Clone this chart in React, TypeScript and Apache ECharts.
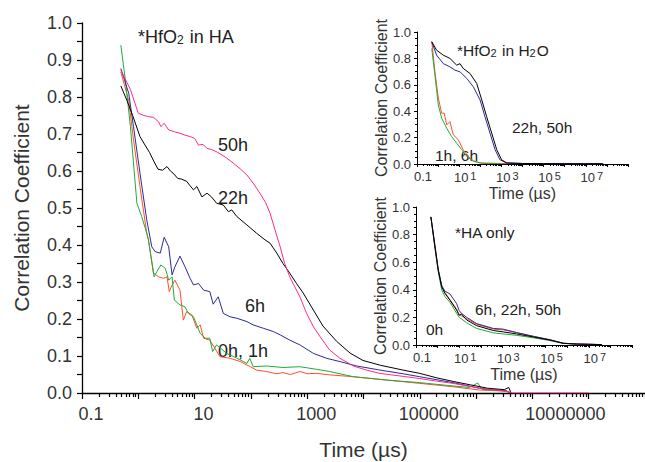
import React, { useEffect, useRef } from "react";
import * as echarts from "echarts";

// ---------- DATA (time as log10 of µs, values = correlation coefficient) ----------
// Main plot: HfO2 in HA
const main0hLogT = [-0.31, -0.17, -0.085, 0.03, 0.15, 0.18, 0.27, 0.36, 0.45, 0.51, 0.55, 0.6, 0.65, 0.74, 0.8, 0.86, 0.95, 1.04, 1.1, 1.16, 1.27, 1.36, 1.45, 1.63, 1.81, 1.99, 2.1, 2.28, 2.45, 2.57, 2.7, 2.87, 3.0, 3.17, 3.4, 3.82, 4.41, 5.0, 5.59, 6.06, 6.54, 6.6];
const main0hY = [0.868, 0.79, 0.684, 0.558, 0.432, 0.414, 0.324, 0.314, 0.31, 0.314, 0.274, 0.292, 0.305, 0.278, 0.197, 0.22, 0.211, 0.175, 0.184, 0.148, 0.143, 0.121, 0.098, 0.094, 0.085, 0.071, 0.062, 0.058, 0.052, 0.055, 0.05, 0.058, 0.052, 0.053, 0.049, 0.044, 0.035, 0.026, 0.017, 0.008, 0.005, 0];

const main1hLogT = [-0.31, -0.23, -0.14, -0.025, 0.06, 0.15, 0.18, 0.28, 0.33, 0.4, 0.48, 0.54, 0.6, 0.64, 0.74, 0.83, 0.89, 0.98, 1.1, 1.19, 1.27, 1.32, 1.39, 1.57, 1.75, 1.93, 1.98, 2.04, 2.28, 2.57, 2.87, 3.17, 3.4, 3.82, 4.41, 5.0, 5.59, 5.88, 6.03, 6.1, 6.54, 6.6];
const main1hY = [0.94, 0.846, 0.72, 0.513, 0.477, 0.432, 0.414, 0.314, 0.328, 0.346, 0.337, 0.305, 0.314, 0.251, 0.238, 0.233, 0.215, 0.206, 0.161, 0.148, 0.148, 0.112, 0.13, 0.107, 0.094, 0.08, 0.094, 0.071, 0.073, 0.069, 0.071, 0.064, 0.058, 0.044, 0.035, 0.028, 0.019, 0.015, 0.027, 0.01, 0.005, 0];

const main6hLogT = [-0.31, -0.17, -0.085, 0.03, 0.15, 0.24, 0.3, 0.39, 0.46, 0.54, 0.6, 0.65, 0.74, 0.83, 0.92, 0.98, 1.07, 1.16, 1.27, 1.33, 1.42, 1.51, 1.63, 1.75, 1.93, 2.04, 2.22, 2.4, 2.52, 2.69, 2.87, 3.11, 3.34, 3.58, 3.88, 4.29, 4.7, 5.0, 5.59, 6.06, 6.54, 6.6];
const main6hY = [0.877, 0.81, 0.72, 0.594, 0.468, 0.395, 0.382, 0.378, 0.421, 0.395, 0.319, 0.341, 0.37, 0.341, 0.31, 0.292, 0.296, 0.278, 0.274, 0.24, 0.26, 0.215, 0.206, 0.202, 0.193, 0.184, 0.175, 0.166, 0.157, 0.143, 0.13, 0.107, 0.094, 0.085, 0.073, 0.062, 0.052, 0.044, 0.028, 0.013, 0.006, 0];

const main22hLogT = [-0.31, -0.2, -0.1, 0.03, 0.12, 0.2, 0.28, 0.35, 0.43, 0.51, 0.57, 0.62, 0.7, 0.77, 0.86, 0.92, 0.98, 1.04, 1.13, 1.22, 1.3, 1.39, 1.51, 1.6, 1.66, 1.75, 1.93, 2.1, 2.25, 2.34, 2.46, 2.57, 2.69, 2.81, 2.93, 3.11, 3.28, 3.52, 3.76, 3.99, 4.3, 4.7, 5.0, 5.3, 5.6, 5.9, 6.2, 6.5, 6.58, 6.62];
const main22hY = [0.83, 0.79, 0.75, 0.693, 0.67, 0.65, 0.625, 0.605, 0.602, 0.612, 0.6, 0.594, 0.58, 0.578, 0.572, 0.56, 0.549, 0.558, 0.53, 0.54, 0.53, 0.513, 0.508, 0.49, 0.495, 0.477, 0.454, 0.432, 0.414, 0.405, 0.378, 0.35, 0.324, 0.296, 0.27, 0.224, 0.181, 0.14, 0.108, 0.088, 0.075, 0.062, 0.053, 0.041, 0.031, 0.022, 0.013, 0.009, 0.015, 0];

const main50hLogT = [-0.31, -0.14, 0.0, 0.1, 0.18, 0.27, 0.36, 0.4, 0.46, 0.54, 0.64, 0.74, 0.83, 0.92, 1.0, 1.07, 1.15, 1.22, 1.3, 1.39, 1.55, 1.69, 1.81, 1.93, 2.05, 2.16, 2.26, 2.34, 2.43, 2.52, 2.6, 2.69, 2.78, 2.87, 2.99, 3.11, 3.23, 3.4, 3.58, 3.82, 4.05, 4.29, 4.7, 5.0, 5.3, 5.59, 6.06, 6.54, 6.65, 8.0];
const main50hY = [0.873, 0.82, 0.756, 0.75, 0.747, 0.745, 0.733, 0.72, 0.729, 0.711, 0.706, 0.702, 0.697, 0.693, 0.688, 0.67, 0.672, 0.661, 0.658, 0.652, 0.637, 0.621, 0.606, 0.589, 0.565, 0.54, 0.515, 0.486, 0.44, 0.395, 0.35, 0.314, 0.287, 0.26, 0.215, 0.179, 0.152, 0.116, 0.094, 0.073, 0.062, 0.053, 0.045, 0.039, 0.032, 0.026, 0.013, 0.005, 0, 0];

// Top inset: HfO2 in H2O
const h2o1hLogT = [-0.3, -0.15, 0.01, 0.17, 0.29, 0.41, 0.56, 0.72, 0.96, 1.19, 1.43, 1.67, 1.99, 3.0, 3.9];
const h2o1hY = [0.93, 0.7, 0.5, 0.385, 0.385, 0.296, 0.321, 0.221, 0.183, 0.108, 0.057, 0.025, 0.008, 0.004, 0.003];
const h2o6hLogT = [-0.3, -0.15, 0.01, 0.17, 0.41, 0.64, 0.88, 1.12, 1.36, 1.67, 2.1, 3.0];
const h2o6hY = [0.875, 0.673, 0.447, 0.347, 0.271, 0.208, 0.158, 0.108, 0.057, 0.02, 0.005, 0.002];
const h2o22hLogT = [-0.3, -0.07, 0.25, 0.56, 0.88, 1.04, 1.19, 1.51, 1.83, 2.07, 2.3, 2.54, 2.78, 3.01, 3.25, 4, 5, 6, 7, 7.83];
const h2o22hY = [0.925, 0.862, 0.824, 0.8, 0.749, 0.76, 0.724, 0.686, 0.61, 0.485, 0.359, 0.234, 0.108, 0.032, 0.008, 0.004, 0.003, 0.002, 0.002, 0.002];
const h2o50hLogT = [-0.3, -0.07, 0.25, 0.56, 0.8, 1.04, 1.36, 1.67, 1.99, 2.22, 2.46, 2.7, 2.93, 3.25, 4, 5, 6, 7, 7.8];
const h2o50hY = [0.925, 0.824, 0.76, 0.736, 0.711, 0.698, 0.648, 0.585, 0.485, 0.359, 0.234, 0.108, 0.032, 0.008, 0.004, 0.003, 0.002, 0.002, 0.002];

// Bottom inset: HA only
const haLogT = [-0.31, -0.12, 0.03, 0.19, 0.34, 0.57, 0.88, 1.0, 1.1, 1.35, 1.81, 2.58, 3.04, 3.66, 4.43, 5.2, 5.82, 6.44, 7.6];
const ha0hY = [0.928, 0.7, 0.54, 0.43, 0.38, 0.33, 0.26, 0.22, 0.21, 0.19, 0.15, 0.115, 0.11, 0.09, 0.063, 0.038, 0.013, 0.007, 0.003];
const ha6hY = [0.928, 0.72, 0.55, 0.43, 0.39, 0.37, 0.3, 0.25, 0.23, 0.2, 0.155, 0.12, 0.115, 0.09, 0.063, 0.038, 0.013, 0.007, 0.003];
const ha22hY = [0.928, 0.71, 0.542, 0.42, 0.374, 0.325, 0.253, 0.215, 0.225, 0.181, 0.14, 0.105, 0.095, 0.08, 0.058, 0.036, 0.012, 0.007, 0.003];
const ha50hY = [0.928, 0.7, 0.53, 0.4, 0.35, 0.31, 0.23, 0.2, 0.19, 0.16, 0.12, 0.088, 0.08, 0.07, 0.052, 0.032, 0.011, 0.006, 0.003];

// Tick labels
const X_LABEL_VALUES = [0.1, 10, 1000, 100000, 10000000];
const MAIN_X_LABELS = ["0.1", "10", "1000", "100000", "10000000"];
const INSET_X_EXPONENTS = ["", "1", "3", "5", "7"];

// Colours
const C_0H = "#ff4f2a";
const C_1H = "#22aa3a";
const C_6H = "#2a2a9a";
const C_22H = "#000000";
const C_50H = "#ff2a88";

const FONT = "'Liberation Sans', Arial, sans-serif";
const TXT = "#222";

const pairs = (logT: number[], y: number[]) => logT.map((l, i) => [Math.pow(10, l), y[i]]);

const DECADES: number[] = [];
const MINORS: number[] = [];
for (let d = -1; d <= 9; d++) {
  DECADES.push(Number(Math.pow(10, d).toPrecision(6)));
  if (d < 9) for (let m = 2; m <= 9; m++) MINORS.push(Number((m * Math.pow(10, d)).toPrecision(6)));
}

function mainLabel(v: number) {
  const i = X_LABEL_VALUES.findIndex((x) => Math.abs(Math.log10(x) - Math.log10(v)) < 0.01);
  if (i < 0) return "";
  // the last label sits further right in the reference
  return i === X_LABEL_VALUES.length - 1 ? "{far|" + MAIN_X_LABELS[i] + "}" : MAIN_X_LABELS[i];
}
function insetLabel(v: number) {
  const i = X_LABEL_VALUES.findIndex((x) => Math.abs(Math.log10(x) - Math.log10(v)) < 0.01);
  if (i < 0) return "";
  if (i === 0) return "0.1";
  return "10{s|" + INSET_X_EXPONENTS[i] + "}";
}

function logX(gridIndex: number, main: boolean, minor: boolean): any {
  return {
    type: "log",
    logBase: 10,
    gridIndex,
    min: 0.1,
    max: 1e9,
    position: "bottom",
    splitLine: { show: false },
    axisLine: { show: !minor, onZero: false, lineStyle: { color: "#000", width: main ? 1.3 : 1 } },
    axisTick: {
      show: true,
      customValues: minor ? MINORS : DECADES,
      length: main ? (minor ? 4 : 6) : minor ? 2 : 3,
      lineStyle: { color: "#000", width: main ? 1.2 : 1 },
    },
    axisLabel: minor
      ? { show: false }
      : {
          show: true,
          customValues: X_LABEL_VALUES,
          formatter: main ? mainLabel : insetLabel,
          fontFamily: FONT,
          fontSize: main ? 18 : 13,
          color: "#333",
          margin: main ? 12 : 6,
          padding: main ? [0, 0, 0, 18] : [0, 0, 0, 12],
          rich: {
            s: { fontSize: 11, fontFamily: FONT, color: "#333", verticalAlign: "top", padding: [0, 0, 3, 2] },
            far: { fontSize: 18, fontFamily: FONT, color: "#333", padding: [0, 0, 0, 48] },
          },
        },
    name: minor ? "" : "Time (µs)",
    nameLocation: "middle",
    nameGap: main ? 46 : 21,
    nameTextStyle: { fontFamily: FONT, fontSize: main ? 21 : 16, color: "#333" },
  };
}

function valY(gridIndex: number, main: boolean): any {
  return {
    type: "value",
    gridIndex,
    min: 0,
    max: 1,
    interval: main ? 0.1 : 0.2,
    splitLine: { show: false },
    axisLine: { show: true, lineStyle: { color: "#000", width: main ? 1.3 : 1 } },
    axisTick: { show: true, inside: false, length: main ? 5 : 3, lineStyle: { color: "#000", width: main ? 1.2 : 1 } },
    minorTick: { show: true, splitNumber: main ? 2 : 4, length: main ? 5 : 2, lineStyle: { color: "#000", width: main ? 1.2 : 1 } },
    axisLabel: {
      formatter: (v: number) => v.toFixed(1),
      fontFamily: FONT,
      fontSize: main ? 18 : 13,
      color: "#333",
      margin: main ? 10 : 6,
    },
    name: "Correlation Coefficient",
    nameLocation: "middle",
    nameGap: main ? 50 : 26,
    nameTextStyle: { fontFamily: FONT, fontSize: main ? 21 : 16, color: "#333" },
  };
}

function line(data: number[][], color: string, xi: number, yi: number): any {
  return {
    type: "line",
    data,
    xAxisIndex: xi,
    yAxisIndex: yi,
    symbol: "none",
    showSymbol: false,
    smooth: false,
    lineStyle: { color, width: 1 },
    itemStyle: { color },
    silent: true,
  };
}

function txt(x: number, y: number, text: string, size: number): any {
  const sub = Math.round(size * 0.68);
  return {
    type: "text",
    x,
    y,
    silent: true,
    style: {
      text,
      fill: TXT,
      fontFamily: FONT,
      fontSize: size,
      align: "left",
      verticalAlign: "middle",
      rich: {
        sub: {
          fontSize: sub,
          lineHeight: sub,
          fontFamily: FONT,
          fill: TXT,
          verticalAlign: "bottom",
          padding: [Math.round(size * 0.8), 1, 0, 0],
        },
      },
    },
  };
}

export default function App() {
  const ref = useRef<HTMLDivElement>(null);
  useEffect(() => {
    document.body.style.margin = "0";
    if (!ref.current) return;
    const chart = echarts.init(ref.current, undefined, { renderer: "svg" });
    chart.setOption({
      animation: false,
      backgroundColor: "#fff",
      grid: [
        { left: 82, top: 23, width: 563, height: 370, outerBoundsMode: "none" },
        { left: 417, top: 32, width: 211, height: 132, outerBoundsMode: "none" },
        { left: 416, top: 207, width: 216, height: 138, outerBoundsMode: "none" },
      ],
      xAxis: [logX(0, true, false), logX(0, true, true), logX(1, false, false), logX(1, false, true), logX(2, false, false), logX(2, false, true)],
      yAxis: [valY(0, true), valY(1, false), valY(2, false)],
      series: [
        line(pairs(main0hLogT, main0hY), C_0H, 0, 0),
        line(pairs(main1hLogT, main1hY), C_1H, 0, 0),
        line(pairs(main6hLogT, main6hY), C_6H, 0, 0),
        line(pairs(main22hLogT, main22hY), C_22H, 0, 0),
        line(pairs(main50hLogT, main50hY), C_50H, 0, 0),
        line(pairs(h2o1hLogT, h2o1hY), C_0H, 2, 1),
        line(pairs(h2o6hLogT, h2o6hY), C_1H, 2, 1),
        line(pairs(h2o50hLogT, h2o50hY), C_6H, 2, 1),
        line(pairs(h2o22hLogT, h2o22hY), C_22H, 2, 1),
        line(pairs(haLogT, ha50hY), C_1H, 4, 2),
        line(pairs(haLogT, ha0hY), C_0H, 4, 2),
        line(pairs(haLogT, ha6hY), C_6H, 4, 2),
        line(pairs(haLogT, ha22hY), C_22H, 4, 2),
      ],
      graphic: [
        txt(138, 37, "*HfO{sub|2} in HA", 18),
        txt(218, 145, "50h", 18),
        txt(218, 198, "22h", 18),
        txt(245, 306, "6h", 18),
        txt(218, 351, "0h, 1h", 18),
        txt(457, 50, "*HfO{sub|2} in H{sub|2}O", 15.5),
        txt(512, 127, "22h, 50h", 15.5),
        txt(435, 155, "1h, 6h", 15.5),
        txt(455, 232, "*HA only", 15.5),
        txt(475, 309, "6h, 22h, 50h", 15.5),
        txt(426, 329, "0h", 15.5),
      ],
    });
    return () => chart.dispose();
  }, []);
  return <div ref={ref} style={{ position: "absolute", left: 0, top: 0, width: 645, height: 462 }} />;
}
